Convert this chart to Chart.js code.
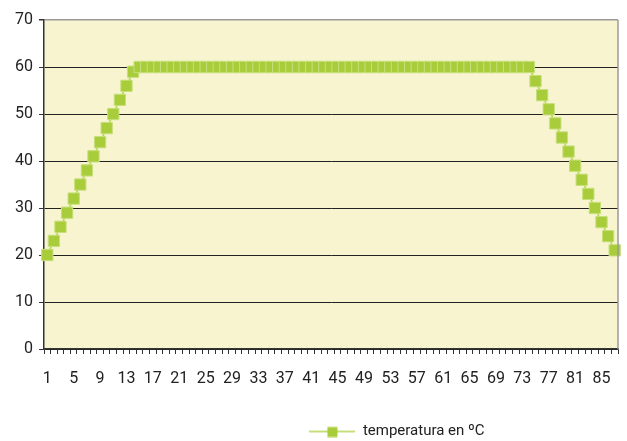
<!DOCTYPE html>
<html>
<head>
<meta charset="utf-8">
<script src="https://cdn.jsdelivr.net/npm/chart.js@4.4.1/dist/chart.umd.min.js"></script>
<style>
  html,body{margin:0;padding:0;background:#fff;}
  #wrap{width:627px;height:441px;}
</style>
</head>
<body>
<div id="wrap"><canvas id="tempChart" width="627" height="441"></canvas></div>
<script>
// データ
const categories = Array.from({length:87}, (_,i) => String(i+1));
const rampUp   = [20,23,26,29,32,35,38,41,44,47,50,53,56,59];
const plateau  = Array(60).fill(60);   // 15〜74
const rampDown = [57,54,51,48,45,42,39,36,33,30,27,24,21];
const temperatura = [...rampUp, ...plateau, ...rampDown];
const seriesLabel = 'temperatura en ºC';

const LINE_C   = '#b3d451';
const MARK_C   = '#a9cc3b';
const MARK_BD  = '#c6e07c';
const PLOT_BG  = '#f9f4d0';
const AXIS_C   = '#333333';
const chartFont = {family:'Roboto', size:16};

// 凡例用アイコン（線＋四角）
function legendIcon(){
  const c = document.createElement('canvas');
  c.width = 46; c.height = 12;
  const g = c.getContext('2d');
  g.strokeStyle = LINE_C; g.lineWidth = 1.5;
  g.beginPath(); g.moveTo(0,6); g.lineTo(46,6); g.stroke();
  g.fillStyle = MARK_C; g.fillRect(18,1.5,10,10);
  return c;
}

// プロット背景と右枠、凡例の位置ずらし
const plotFrame = {
  id:'plotFrame',
  afterLayout(chart){
    const lg = chart.legend;
    if(lg){ lg.left += 86; lg.right += 86; lg.top += 8; lg.bottom += 8; }
  },
  beforeDraw(chart){
    const {ctx, chartArea:a} = chart;
    ctx.save();
    ctx.fillStyle = PLOT_BG;
    ctx.fillRect(a.left, a.top, a.right-a.left, a.bottom-a.top);
    ctx.restore();
  },
  afterDatasetsDraw(chart){
    const {ctx, chartArea:a} = chart;
    ctx.save();
    ctx.strokeStyle = '#9a9a9a'; ctx.lineWidth = 1.5;
    ctx.beginPath(); ctx.moveTo(a.right, a.top); ctx.lineTo(a.right, a.bottom); ctx.stroke();
    ctx.restore();
  }
};

new Chart(document.getElementById('tempChart').getContext('2d'), {
  type:'line',
  data:{
    labels: categories,
    datasets:[{
      label: seriesLabel,
      data: temperatura,
      borderColor: LINE_C, borderWidth: 1.5,
      pointStyle:'rect', pointRadius: 8, pointHoverRadius: 8,
      pointBackgroundColor: MARK_C, pointBorderColor: MARK_BD, pointBorderWidth: 1,
      tension: 0, fill: false, clip: 10,
    }]
  },
  options:{
    responsive:false, animation:false,
    layout:{padding:{top:20, right:5, left:0, bottom:0}},
    plugins:{
      legend:{position:'bottom', labels:{
        color:'#222', font:{family:'Roboto', size:15}, usePointStyle:true,
        pointStyle: legendIcon(), pointStyleWidth: 46, padding: 2,
      }},
      tooltip:{enabled:false}
    },
    scales:{
      x:{
        type:'category', offset:true,
        grid:{display:true, offset:true, drawOnChartArea:false, drawTicks:true, tickLength:5, color:AXIS_C},
        border:{display:true, color:AXIS_C, width:1.5},
        ticks:{color:'#222', font:chartFont, autoSkip:false, maxRotation:0, padding:15,
          callback:(v,i) => i%4===0 ? categories[i] : ''},
        afterFit:s => { s.height = 65; s.paddingRight = 0; s.paddingLeft = 0; }
      },
      y:{
        min:0, max:70,
        grid:{color:c => c.tick.value===70 ? '#9a9a9a' : '#222', lineWidth:c => c.tick.value===70 ? 1.5 : 1, tickLength:5, tickColor:AXIS_C},
        border:{display:true, color:AXIS_C, width:1.5},
        ticks:{stepSize:10, color:'#222', font:chartFont, padding:6},
        afterFit:s => { s.width = 44; }
      }
    }
  },
  plugins:[plotFrame]
});
</script>
</body>
</html>
